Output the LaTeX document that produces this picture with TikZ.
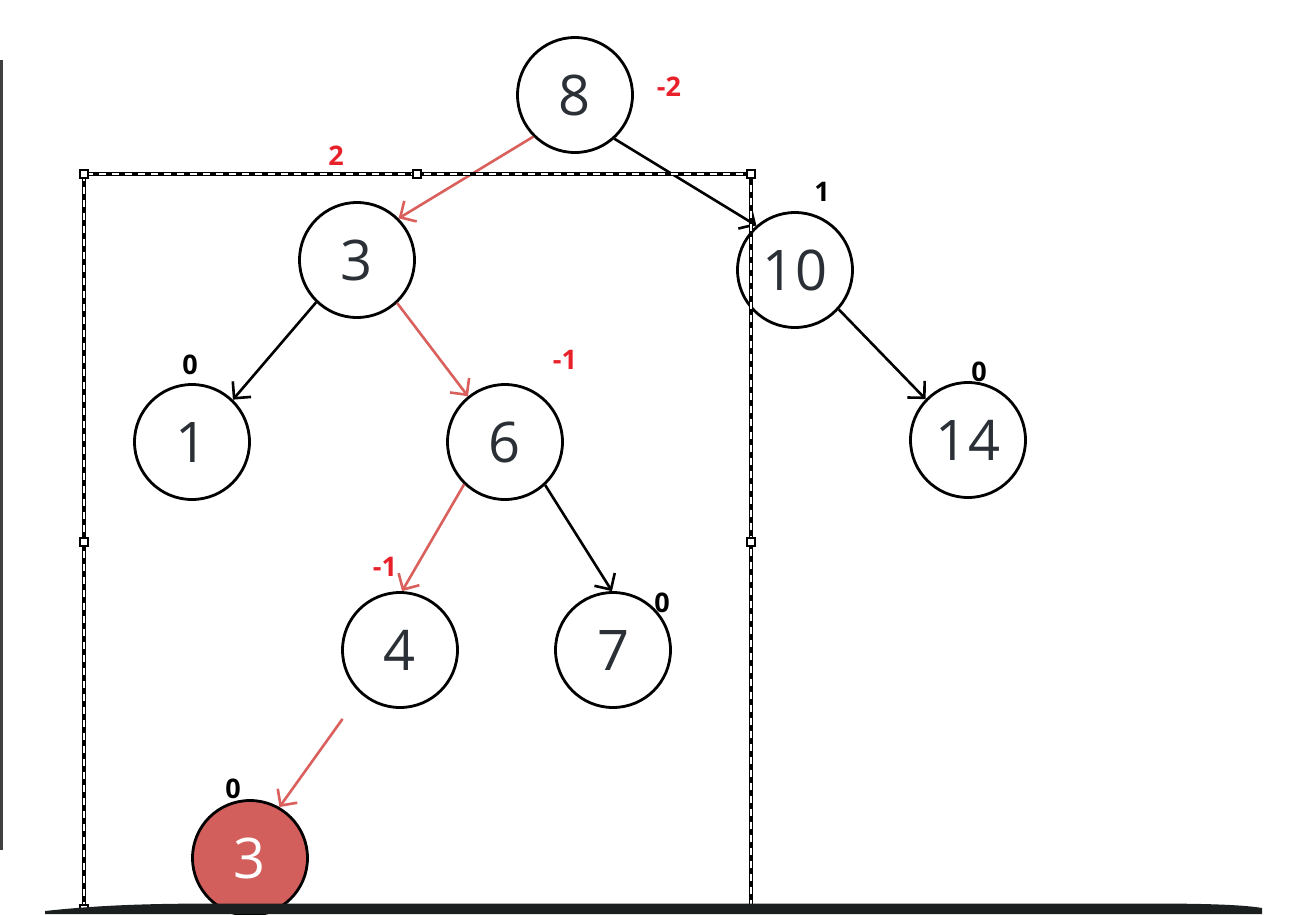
\documentclass[tikz,border=0pt]{standalone}
\usepackage{fontspec}
\setmainfont{Open Sans}
\usetikzlibrary{arrows.meta}
\definecolor{digit}{HTML}{2B2F36}
\definecolor{edgered}{HTML}{D9605C}
\definecolor{nodered}{HTML}{D35F5D}
\definecolor{labred}{HTML}{E8202A}
\definecolor{barblack}{HTML}{1C1F1F}
\tikzset{
  treenode/.style={circle,draw=black,line width=2.8pt,minimum size=115pt,inner sep=0pt,
    text=digit,font=\fontsize{56}{60}\selectfont},
  hotnode/.style={treenode,fill=nodered,text=white},
  blk/.style={line width=2.6pt,draw=black,-{Straight Barb[length=12pt,width=24pt]}},
  redge/.style={blk,draw=edgered},
  bal/.style={font=\bfseries\fontsize{27}{29}\selectfont,inner sep=0pt},
  balred/.style={bal,text=labred},
  handle/.style={draw=black,fill=white,line width=1.2pt,minimum size=8pt,inner sep=0pt,rectangle}
}
\begin{document}
\begin{tikzpicture}[x=1pt,y=-1pt]
\useasboundingbox (0,0) rectangle (1305,914);
% nodes
\node[treenode] (n8) at (575,95) {8};
\node[treenode] (n3) at (357,260) {3};
\node[treenode] (n10) at (795,270) {10};
\node[treenode] (n1) at (192,442) {1};
\node[treenode] (n6) at (505,442) {6};
\node[treenode] (n14) at (968,440) {14};
\node[treenode] (n4) at (400,650) {4};
\node[treenode] (n7) at (613,650) {7};
\node[hotnode] (nr) at (250,858) {3};
% edges
\draw[redge] (n8.225) -- (n3.45);
\draw[blk] (n8.312) -- (n10.131);
\draw[blk] (n3.226) -- (n1.46);
\draw[redge] (n3.313) -- (n6.129);
\draw[blk] (n10.318) -- (n14.136);
\draw[redge] (n6.226) -- (n4.88);
\draw[blk] (n6.313) -- (n7.91);
\draw[redge,shorten <=31pt] (n4.228) -- (nr.60);
% balance labels
\node[balred] (b8) at (669,87) {-2};
\node[balred] (b3) at (336,156) {2};
\node[bal] (b10) at (822,192) {1};
\node[bal] (b1) at (190,365) {0};
\node[balred] (b6) at (565,360) {-1};
\node[bal] (b14) at (979,372) {0};
\node[balred] (b4) at (385,567) {-1};
\node[bal] (b7) at (662,603) {0};
\node[bal] (br) at (233,789) {0};
% selection frame
\draw[line width=4.5pt,black] (84,174) rectangle (751,909);
\draw[line width=1.4pt,white,dash pattern=on 7pt off 6pt] (84,174) rectangle (751,909);
\foreach \p in {(84,174),(417,174),(751,174),(84,542),(751,542),(84,909),(417,909),(751,909)}
  \node[handle] at \p {};
% left edge and bottom bar
\draw[line width=3pt,black!75] (1.5,60) -- (1.5,850);
\fill[barblack] (45,911) .. controls (100,905) and (150,903.5) .. (220,903.5) -- (1150,903.5)
  .. controls (1210,903.5) and (1245,905) .. (1262,908) -- (1262,914) -- (45,914) -- cycle;
\end{tikzpicture}
\end{document}
